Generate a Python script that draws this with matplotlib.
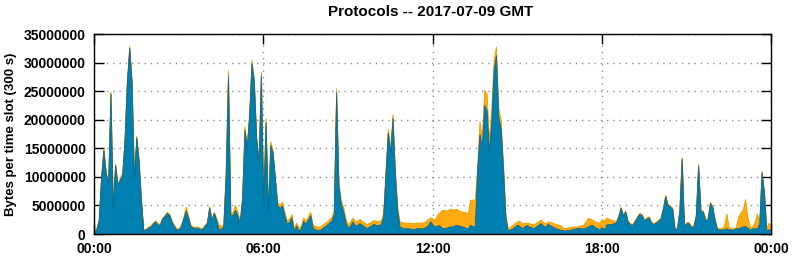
import matplotlib
matplotlib.use("Agg")
import matplotlib.pyplot as plt
from matplotlib.ticker import FixedLocator, FuncFormatter
import numpy as np

plt.rcParams["font.family"] = ["Liberation Sans", "DejaVu Sans"]
plt.rcParams["font.weight"] = "bold"

# 5-minute slots, values in millions of bytes, one row per hour
blue_mb = [
    0.5, 0.8, 2.4, 9.8, 14.7, 10.6, 8.8, 24.6, 4.8, 12.1, 8.6, 9.5,
    10.4, 16.7, 26.7, 32.6, 26.6, 9.8, 16.9, 12.7, 5.8, 0.6, 0.8, 1.1,
    1.3, 1.8, 2.2, 1.7, 1.6, 2.7, 3.1, 3.7, 3.3, 2.2, 1.4, 0.8,
    0.8, 1.4, 2.7, 4.1, 2.9, 1.4, 1.1, 1.1, 1.1, 0.9, 0.9, 1.4,
    1.9, 4.6, 2.5, 3.7, 2.4, 0.9, 0.9, 1.3, 10.3, 27.8, 3.3, 3.3,
    4.2, 3.3, 2.1, 6.2, 18.2, 15.3, 20.8, 29.9, 26.7, 16.8, 12.5, 27.8,
    5.2, 19.6, 3.8, 15.6, 14.2, 9.5, 5.0, 4.6, 5.0, 3.3, 1.8, 2.1,
    2.9, 0.5, 1.5, 0.6, 1.0, 2.3, 1.8, 2.5, 3.3, 1.1, 0.8, 0.7,
    0.7, 1.0, 1.3, 1.6, 2.0, 2.3, 3.5, 24.8, 8.5, 5.2, 4.0, 2.0,
    1.1, 1.5, 2.2, 1.5, 1.6, 1.9, 1.6, 1.3, 1.0, 1.3, 1.5, 1.8,
    1.5, 1.6, 1.7, 3.0, 10.5, 17.8, 14.3, 20.3, 10.5, 4.2, 1.3, 1.1,
    1.0, 1.0, 1.0, 0.9, 0.9, 1.0, 1.0, 1.0, 1.0, 1.2, 1.5, 2.2,
    1.7, 1.3, 1.5, 1.5, 1.1, 1.0, 1.1, 1.3, 1.3, 1.4, 1.6, 1.5,
    1.4, 1.3, 1.1, 1.0, 1.6, 1.4, 1.3, 11.2, 17.5, 15.3, 22.6, 21.7,
    14.5, 19.5, 28.7, 31.3, 20.5, 18.5, 11.5, 3.0, 0.6, 0.8, 1.0, 1.3,
    1.6, 1.4, 1.0, 1.3, 1.6, 1.3, 1.2, 1.0, 1.3, 1.6, 1.9, 1.5,
    1.2, 1.8, 1.5, 1.3, 1.1, 0.9, 0.8, 0.7, 0.6, 0.7, 0.7, 0.8,
    0.9, 1.0, 1.0, 1.0, 1.0, 1.1, 1.3, 1.5, 1.6, 1.2, 1.0, 0.8,
    1.2, 0.8, 1.7, 1.7, 1.7, 1.9, 2.0, 3.0, 4.6, 3.3, 3.9, 2.2,
    1.7, 1.6, 2.2, 2.9, 3.5, 3.3, 2.4, 2.7, 2.9, 2.0, 1.7, 2.0,
    2.3, 2.7, 4.4, 6.6, 5.1, 4.8, 4.4, 0.9, 0.9, 4.0, 13.2, 1.3,
    1.9, 1.9, 1.2, 1.3, 3.2, 12.0, 4.0, 3.9, 2.5, 2.5, 5.4, 4.8,
    2.5, 0.9, 0.8, 0.8, 0.8, 1.0, 0.8, 0.8, 0.8, 1.0, 1.0, 1.2,
    1.3, 1.4, 1.1, 0.8, 1.0, 1.0, 1.0, 1.8, 10.8, 7.3, 0.7, 0.8,
    0.7,
]

orange_mb = [
    0.2, 0.2, 0.2, 0.3, 0.3, 0.3, 0.2, 0.3, 0.2, 0.3, 0.2, 0.3,
    0.3, 0.3, 0.3, 0.3, 0.3, 0.2, 0.3, 0.3, 0.2, 0.2, 0.1, 0.2,
    0.2, 0.2, 0.2, 0.2, 0.2, 0.2, 0.2, 0.2, 0.2, 0.2, 0.2, 0.2,
    0.2, 0.2, 0.3, 0.7, 0.4, 0.3, 0.2, 0.2, 0.2, 0.2, 0.2, 0.2,
    0.2, 0.3, 0.2, 0.2, 0.4, 0.8, 0.5, 0.5, 0.3, 0.9, 0.4, 0.6,
    0.9, 0.6, 0.3, 0.3, 0.6, 0.3, 0.3, 0.6, 0.3, 0.3, 0.3, 0.6,
    0.3, 0.7, 0.4, 0.6, 0.5, 0.4, 0.5, 0.6, 0.7, 0.6, 0.6, 0.6,
    0.6, 0.5, 0.5, 0.5, 0.5, 0.6, 0.6, 0.6, 0.6, 0.6, 0.6, 0.6,
    0.6, 0.6, 0.6, 0.6, 0.6, 0.7, 0.7, 0.7, 0.7, 0.7, 0.8, 0.7,
    0.6, 0.7, 0.7, 0.7, 0.7, 0.7, 0.7, 0.7, 0.7, 0.7, 0.7, 0.7,
    0.7, 0.7, 0.7, 0.7, 0.5, 0.6, 0.5, 0.7, 0.5, 0.6, 0.9, 1.0,
    1.0, 1.0, 1.0, 1.0, 1.0, 1.0, 1.0, 1.0, 1.0, 1.0, 1.1, 0.7,
    1.0, 1.2, 1.9, 2.3, 3.1, 3.2, 3.0, 3.0, 3.1, 2.9, 2.8, 2.7,
    2.6, 2.6, 2.7, 2.6, 4.4, 4.6, 4.8, 0.6, 2.3, 1.7, 2.6, 2.9,
    2.0, 2.6, 1.8, 1.5, 1.5, 1.4, 0.8, 0.6, 0.4, 0.5, 0.6, 0.6,
    0.6, 0.9, 0.9, 0.6, 0.4, 0.6, 0.6, 0.6, 0.7, 0.6, 0.6, 0.6,
    0.7, 0.4, 0.6, 0.7, 0.7, 0.8, 0.8, 0.6, 0.4, 0.4, 0.5, 0.5,
    0.4, 0.3, 0.4, 0.5, 0.6, 1.0, 1.5, 1.2, 0.9, 1.0, 1.1, 1.2,
    1.4, 1.5, 1.2, 1.0, 0.8, 0.5, 0.2, 0.2, 0.2, 0.2, 0.2, 0.2,
    0.2, 0.2, 0.2, 0.2, 0.2, 0.2, 0.2, 0.2, 0.2, 0.2, 0.2, 0.2,
    0.2, 0.2, 0.3, 0.3, 0.2, 0.2, 0.2, 0.2, 0.2, 0.2, 0.2, 0.2,
    0.2, 0.2, 0.2, 0.2, 0.2, 0.2, 0.2, 0.2, 0.2, 0.2, 0.2, 0.2,
    0.2, 0.2, 0.2, 0.2, 0.7, 2.6, 0.5, 0.2, 0.2, 0.2, 2.0, 2.6,
    3.0, 4.7, 1.8, 0.5, 0.3, 1.1, 2.6, 0.3, 0.2, 0.2, 0.3, 1.2,
    0.8,
]

slot_minutes = np.arange(len(blue_mb)) * 5
hour_ticks = [0, 6, 12, 18, 24]
hour_labels = ["00:00", "06:00", "12:00", "18:00", "00:00"]
y_ticks = [0, 5000000, 10000000, 15000000, 20000000, 25000000, 30000000, 35000000]

hours = slot_minutes / 60.0
blue = np.array(blue_mb) * 1e6
top = blue + np.array(orange_mb) * 1e6

fig = plt.figure(figsize=(7.92, 2.59), dpi=100)
ax = fig.add_axes([94 / 792, 1 - 234 / 259, 677 / 792, 200 / 259])

ax.fill_between(hours, blue, top, color="#FFAA10", lw=0.6, edgecolor="#E8A000", zorder=2)
ax.fill_between(hours, 0, blue, color="#0080B0", lw=0.6, edgecolor="#106890", zorder=3)

ax.set_xlim(0, 24)
ax.set_ylim(0, 35000000)
ax.xaxis.set_major_locator(FixedLocator(hour_ticks))
ax.set_xticklabels(hour_labels)
ax.yaxis.set_major_locator(FixedLocator(y_ticks))
ax.yaxis.set_major_formatter(FuncFormatter(lambda v, p: f"{int(v)}"))

# gnuplot-style dotted grid
ax.grid(True, color="#909090", linestyle=(0, (1, 3.5)), lw=1.0, zorder=1)
ax.set_axisbelow(True)

ax.tick_params(direction="in", length=7, width=1, top=True, right=True,
               labelsize=10, pad=6, colors="black")
for lbl in ax.get_xticklabels() + ax.get_yticklabels():
    lbl.set_fontweight("bold")
for s in ax.spines.values():
    s.set_linewidth(1.0)
    s.set_zorder(5)

ax.set_ylabel("Bytes per time slot (300 s)", fontsize=9.5, fontweight="bold", labelpad=5)
fig.text(431 / 792, 1 - 12 / 259, "Protocols -- 2017-07-09 GMT",
         ha="center", va="center", fontsize=11, fontweight="bold")

fig.savefig("out.png", dpi=100)
